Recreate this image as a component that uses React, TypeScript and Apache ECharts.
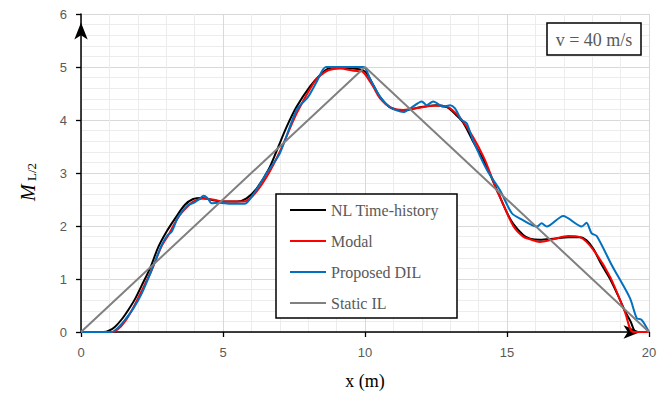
import React, { useEffect, useRef } from "react";
import * as echarts from "echarts";

// NL Time-history
const nlX = [0, 0.8, 1.0, 1.2, 1.45, 1.67, 1.9, 2.14, 2.43, 2.72, 3.02, 3.31, 3.66, 3.95, 4.25, 4.72, 5.0, 5.5, 5.83, 6.19, 6.6, 6.89, 7.24, 7.59, 8.06, 8.42, 8.7, 9.0, 9.59, 9.88, 10.06, 10.3, 10.53, 10.88, 11.35, 11.94, 12.5, 12.9, 13.2, 13.46, 13.8, 14.17, 14.63, 15.0, 15.22, 15.57, 15.81, 16.16, 16.63, 17.16, 17.57, 17.8, 18.04, 18.3, 18.63, 18.9, 19.15, 19.35, 19.55, 20];
const nlY = [0, 0, 0.03, 0.1, 0.25, 0.42, 0.62, 0.88, 1.2, 1.6, 1.9, 2.14, 2.4, 2.51, 2.53, 2.48, 2.46, 2.46, 2.52, 2.71, 3.06, 3.42, 3.87, 4.25, 4.63, 4.85, 4.97, 4.99, 4.97, 4.95, 4.88, 4.65, 4.43, 4.24, 4.18, 4.24, 4.28, 4.24, 4.1, 3.95, 3.6, 3.25, 2.7, 2.25, 2.04, 1.83, 1.76, 1.74, 1.76, 1.79, 1.79, 1.73, 1.57, 1.3, 1.0, 0.7, 0.4, 0.2, 0, 0];

// Modal
const modalX = [0, 1.1, 1.3, 1.55, 1.8, 2.14, 2.49, 2.84, 3.1, 3.3, 3.5, 3.78, 3.95, 4.31, 4.72, 5.01, 5.72, 6.07, 6.54, 7.0, 7.59, 8.18, 8.45, 8.71, 9.12, 9.59, 9.88, 10.06, 10.3, 10.53, 10.9, 11.35, 11.9, 12.4, 12.7, 13.0, 13.46, 14.17, 14.63, 14.75, 15.22, 15.57, 15.81, 16.16, 16.63, 17.16, 17.57, 18.04, 18.63, 19.15, 19.45, 20];
const modalY = [0, 0, 0.05, 0.2, 0.42, 0.78, 1.17, 1.62, 1.85, 2.05, 2.22, 2.38, 2.46, 2.52, 2.49, 2.46, 2.46, 2.58, 2.93, 3.4, 4.12, 4.69, 4.85, 4.94, 4.97, 4.93, 4.92, 4.82, 4.62, 4.41, 4.24, 4.19, 4.23, 4.27, 4.27, 4.22, 3.97, 3.31, 2.68, 2.55, 2.0, 1.8, 1.75, 1.7, 1.75, 1.81, 1.79, 1.55, 1.04, 0.38, 0, 0];

// Proposed DIL
const dilX = [0, 1.08, 1.3, 1.55, 1.85, 2.14, 2.49, 2.84, 3.05, 3.19, 3.43, 3.78, 3.95, 4.15, 4.31, 4.45, 4.6, 4.84, 5.3, 5.77, 6.07, 6.54, 7.0, 7.59, 8.0, 8.3, 8.63, 9.94, 10.2, 10.53, 10.88, 11.35, 11.6, 12.0, 12.17, 12.4, 12.76, 13.0, 13.17, 13.4, 13.58, 13.8, 14.3, 14.75, 15.17, 15.5, 16.05, 16.22, 16.4, 16.98, 17.63, 17.8, 17.98, 18.16, 18.7, 19.33, 19.57, 19.74, 20];
const dilY = [0, 0, 0.08, 0.23, 0.45, 0.73, 1.17, 1.64, 1.83, 1.89, 2.18, 2.4, 2.43, 2.5, 2.57, 2.53, 2.43, 2.44, 2.42, 2.42, 2.6, 3.0, 3.37, 4.19, 4.44, 4.72, 5.0, 5.0, 4.75, 4.44, 4.24, 4.15, 4.22, 4.35, 4.28, 4.35, 4.25, 4.28, 4.22, 4.0, 3.94, 3.62, 3.05, 2.68, 2.24, 2.13, 1.99, 2.05, 1.99, 2.19, 1.99, 2.06, 1.86, 1.81, 1.25, 0.64, 0.26, 0.23, 0];

// Static IL
const ilX = [0, 10, 20];
const ilY = [0, 5, 0];

const xTicks = [0, 5, 10, 15, 20];
const yTicks = [0, 1, 2, 3, 4, 5, 6];

const pair = (xs: number[], ys: number[]) => xs.map((x, i) => [x, ys[i]]);

const SERIF = "'Liberation Serif', 'DejaVu Serif', serif";
const SANS = "'Liberation Sans', 'Noto Sans', sans-serif";

export default function App() {
  const ref = useRef<HTMLDivElement>(null);
  useEffect(() => {
    if (!ref.current) return;
    const chart = echarts.init(ref.current, undefined, { renderer: "svg" });
    const axisCommon = {
      axisLine: {
        show: true,
        lineStyle: { color: "#000", width: 1.5 },
        symbol: ["none", "arrow"],
        symbolSize: [10, 17],
        symbolOffset: [0, -8.5],
      },
      axisTick: { show: true, length: 5, lineStyle: { color: "#000", width: 1.3 } },
      axisLabel: { color: "#595959", fontSize: 13, fontFamily: SANS, margin: 14 },
      splitLine: { show: true, lineStyle: { color: "#d9d9d9", width: 1 } },
      minorTick: { show: false, splitNumber: 5 },
      minorSplitLine: { show: true, lineStyle: { color: "#ececec", width: 1 } },
    };
    const lineSeries = (name: string, data: number[][], color: string, smooth: number | boolean, z: number) => ({
      name,
      type: "line",
      data,
      symbol: "none",
      showSymbol: false,
      smooth,
      z,
      lineStyle: { color, width: 2 },
      itemStyle: { color },
    });
    chart.setOption({
      animation: false,
      backgroundColor: "#fff",
      grid: { left: 81, right: 23, top: 14, bottom: 63, containLabel: false },
      xAxis: {
        type: "value",
        min: xTicks[0],
        max: xTicks[xTicks.length - 1],
        interval: 5,
        ...axisCommon,
      },
      yAxis: {
        type: "value",
        min: yTicks[0],
        max: yTicks[yTicks.length - 1],
        interval: 1,
        ...axisCommon,
      },
      legend: {
        orient: "vertical",
        left: 290,
        top: 201,
        padding: 0,
        icon: "rect",
        itemWidth: 36,
        itemHeight: 2,
        itemGap: 13,
        z: 10,
        textStyle: { fontFamily: SERIF, fontSize: 16, color: "#595959", lineHeight: 18 },
        data: ["NL Time-history", "Modal", "Proposed DIL", "Static IL"],
      },
      graphic: [
        {
          type: "rect",
          z: 5,
          shape: { x: 276, y: 194, width: 181, height: 124 },
          style: { fill: "#fff", stroke: "#000", lineWidth: 1.5 },
        },
        {
          type: "rect",
          z: 5,
          shape: { x: 547, y: 23, width: 94, height: 32 },
          style: { fill: "#fff", stroke: "#000", lineWidth: 1.5 },
        },
        {
          type: "text",
          z: 6,
          x: 594,
          y: 40,
          style: {
            text: "v = 40 m/s",
            fontFamily: SERIF,
            fontSize: 18,
            fill: "#595959",
            align: "center",
            verticalAlign: "middle",
          },
        },
        {
          type: "text",
          z: 6,
          x: 365,
          y: 381,
          style: {
            text: "x (m)",
            fontFamily: SERIF,
            fontSize: 18,
            fill: "#000",
            align: "center",
            verticalAlign: "middle",
          },
        },
        {
          type: "text",
          z: 6,
          x: 27,
          y: 182,
          rotation: Math.PI / 2,
          style: {
            text: "{m|M}{s| L/2}",
            align: "center",
            verticalAlign: "middle",
            rich: {
              m: { fontFamily: SERIF, fontStyle: "italic", fontSize: 20, fill: "#000", verticalAlign: "bottom", lineHeight: 22 },
              s: { fontFamily: SERIF, fontSize: 13, fill: "#000", verticalAlign: "bottom", lineHeight: 20 },
            },
          },
        },
      ],
      series: [
        lineSeries("NL Time-history", pair(nlX, nlY), "#000000", 0.3, 2),
        lineSeries("Modal", pair(modalX, modalY), "#ff0000", 0.3, 3),
        lineSeries("Proposed DIL", pair(dilX, dilY), "#0070c0", 0.25, 4),
        lineSeries("Static IL", pair(ilX, ilY), "#808080", false, 4),
      ],
    });
    return () => chart.dispose();
  }, []);
  return <div ref={ref} style={{ width: 672, height: 395, position: "absolute", left: 0, top: 0 }} />;
}
